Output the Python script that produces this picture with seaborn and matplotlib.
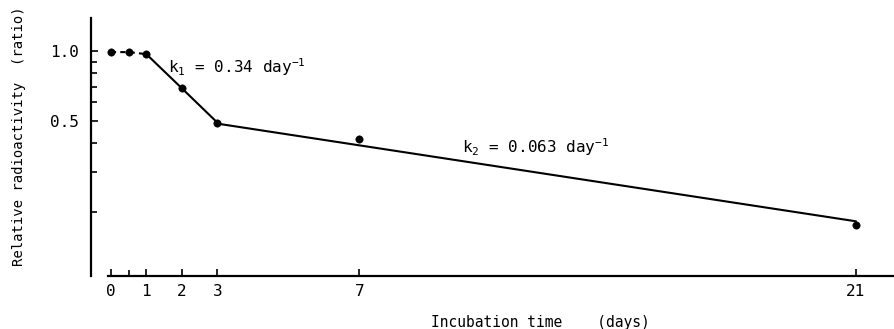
import matplotlib
matplotlib.use('Agg')
import matplotlib.pyplot as plt
import seaborn as sns
import pandas as pd
from matplotlib.ticker import FixedLocator, NullFormatter

# measured points
days = [0, 0.5, 1, 2, 3, 7, 21]
ratio = [0.99, 0.99, 0.97, 0.69, 0.49, 0.415, 0.176]

# early plateau (dashed), fast phase k1 (solid), slow phase k2 fit line
plateau_days = [0, 0.5, 1]
plateau_vals = [0.99, 0.99, 0.97]
k1_days = [1, 2, 3]
k1_vals = [0.97, 0.69, 0.49]
k2_days = [3, 21]
k2_vals = [0.485, 0.183]

xtick_vals = [0, 1, 2, 3, 7, 21]
ytick_major = [0.5, 1.0]
ytick_minor = [0.2, 0.3, 0.4, 0.6, 0.7, 0.8, 0.9]

sns.set_theme(style='white')
plt.rcParams['font.family'] = ['DejaVu Sans Mono', 'DejaVu Sans']
plt.rcParams['mathtext.fontset'] = 'custom'
plt.rcParams['mathtext.rm'] = 'DejaVu Sans Mono'
plt.rcParams['mathtext.it'] = 'DejaVu Sans Mono'

df = pd.DataFrame({'day': days, 'ratio': ratio})

fig = plt.figure(figsize=(8.95, 3.29), dpi=100)
ax = fig.add_axes([0.1017, 0.161, 0.8983, 0.784])

sns.lineplot(x=plateau_days, y=plateau_vals, ax=ax, color='black', lw=1.5,
             linestyle=(0, (2.5, 2)))
sns.lineplot(x=k1_days, y=k1_vals, ax=ax, color='black', lw=1.5)
sns.lineplot(x=k2_days, y=k2_vals, ax=ax, color='black', lw=1.5)
sns.scatterplot(data=df, x='day', y='ratio', ax=ax, color='black', s=28,
                edgecolor='black', zorder=5)

ax.set_yscale('log')
ax.set_xlim(-0.56, 22.1)
ax.set_ylim(0.106, 1.39)

ax.spines['top'].set_visible(False)
ax.spines['right'].set_visible(False)
for s in ['left', 'bottom']:
    ax.spines[s].set_color('black')
    ax.spines[s].set_linewidth(1.6)
ax.spines['bottom'].set_bounds(-0.08, 22.1)

ax.set_xticks(xtick_vals)
ax.set_xticks([0.5], minor=True)
ax.set_xticklabels([str(v) for v in xtick_vals])
ax.yaxis.set_major_locator(FixedLocator(ytick_major))
ax.yaxis.set_minor_locator(FixedLocator(ytick_minor))
ax.yaxis.set_minor_formatter(NullFormatter())
ax.set_yticklabels(['0.5', '1.0'])
ax.tick_params(axis='both', which='both', direction='in', color='black',
               labelsize=11.5, labelcolor='black', width=1.2,
               bottom=True, left=True)
ax.tick_params(axis='both', which='major', length=5)
ax.tick_params(axis='both', which='minor', length=4)
ax.tick_params(axis='y', which='major', pad=9)
ax.tick_params(axis='x', which='major', pad=6)

ax.set_xlabel('Incubation time    (days)', fontsize=10.5, color='black')
ax.xaxis.set_label_coords(0.559, -0.15)
ax.set_ylabel('Relative radioactivity  (ratio)', fontsize=10, color='black')
ax.yaxis.set_label_coords(-0.081, 0.543)

ax.text(1.6, 0.80, r'k$_{\mathrm{1}}$ = 0.34 day$^{\mathrm{-1}}$', fontsize=11.5,
        color='black')
ax.text(9.9, 0.36, r'k$_{\mathrm{2}}$ = 0.063 day$^{\mathrm{-1}}$', fontsize=11.5,
        color='black')

fig.savefig('out.png', dpi=100, facecolor='white')
